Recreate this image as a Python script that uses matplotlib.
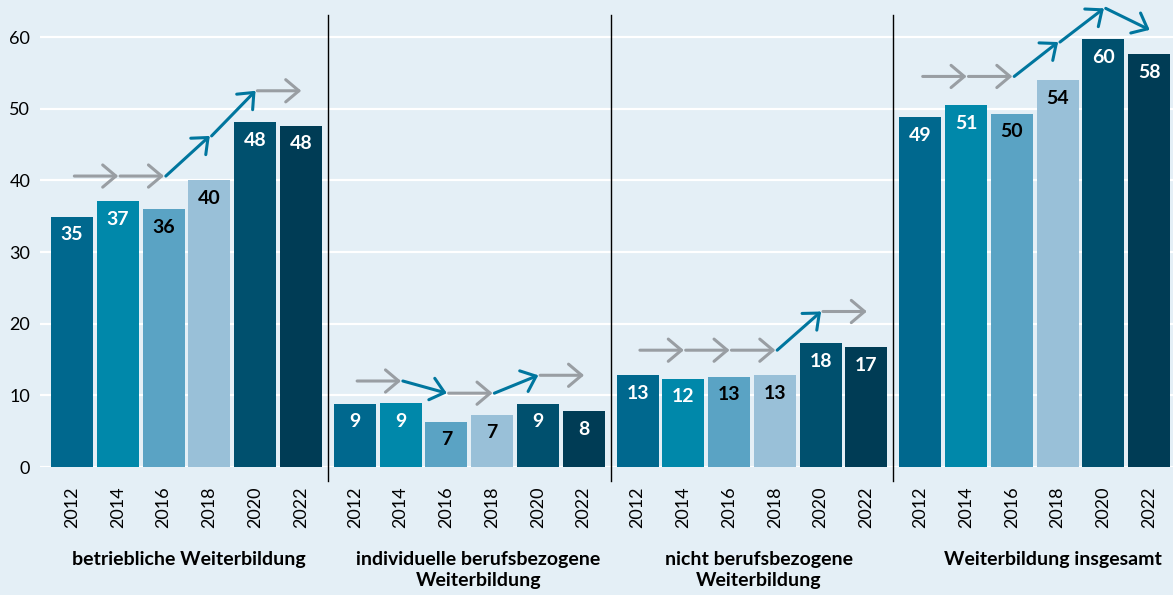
import matplotlib
matplotlib.use("Agg")
import matplotlib.pyplot as plt
from matplotlib.patches import FancyArrowPatch
import matplotlib.transforms as mtransforms

plt.rcParams['font.family'] = ['Lato', 'DejaVu Sans']

years = ["2012", "2014", "2016", "2018", "2020", "2022"]
groups = ["betriebliche Weiterbildung",
          "individuelle berufsbezogene\nWeiterbildung",
          "nicht berufsbezogene\nWeiterbildung",
          "Weiterbildung insgesamt"]

# bar heights and printed labels
heights_betrieblich = [34.9, 37.1, 36.0, 40.0, 48.1, 47.6]
heights_individuell = [8.8, 8.9, 6.3, 7.3, 8.8, 7.8]
heights_nicht = [12.8, 12.3, 12.6, 12.8, 17.3, 16.7]
heights_gesamt = [48.8, 50.5, 49.3, 54.0, 59.7, 57.6]

labels_betrieblich = ["35", "37", "36", "40", "48", "48"]
labels_individuell = ["9", "9", "7", "7", "9", "8"]
labels_nicht = ["13", "12", "13", "13", "18", "17"]
labels_gesamt = ["49", "51", "50", "54", "60", "58"]

# trend-arrow levels above each bar
trend_betrieblich = [40.6, 40.6, 40.6, 46.2, 52.5, 52.5]
trend_individuell = [12.0, 12.0, 10.3, 10.3, 12.8, 12.8]
trend_nicht = [16.3, 16.3, 16.3, 16.3, 21.7, 21.7]
trend_gesamt = [54.5, 54.5, 54.5, 59.3, 64.0, 61.0]

all_heights = [heights_betrieblich, heights_individuell, heights_nicht, heights_gesamt]
all_labels = [labels_betrieblich, labels_individuell, labels_nicht, labels_gesamt]
all_trends = [trend_betrieblich, trend_individuell, trend_nicht, trend_gesamt]

bar_colors = ["#00688e", "#0088aa", "#5aa3c4", "#99c0d8", "#00506e", "#003c55"]
label_colors = ["white", "white", "black", "black", "white", "white"]
bg = "#e4eff6"
gray = "#999ea3"
blue = "#00769e"

GROUP_PITCH = 6.18
BAR_W = 0.918
GROUP_LABEL_SHIFT = [0.05, 0.2, 0.15, 0.4]

fig = plt.figure(figsize=(11.73, 5.95), dpi=100, facecolor=bg)
ax = fig.add_axes([40 / 1173, 128 / 595, 1 - 40 / 1173, 465.8 / 595])
ax.set_facecolor(bg)
ax.set_xlim(-0.70, 3 * GROUP_PITCH + 5 + 0.52)
ax.set_ylim(0, 65)
for s in ax.spines.values():
    s.set_visible(False)
ax.set_yticks([0, 10, 20, 30, 40, 50, 60])
ax.yaxis.grid(True, color="white", linewidth=1.6)
ax.set_axisbelow(True)
ax.tick_params(axis="y", length=0, pad=7, labelsize=13)
ax.tick_params(axis="x", length=0, pad=14, labelsize=13)

xticks, xlabels = [], []
blend = mtransforms.blended_transform_factory(ax.transData, fig.transFigure)
for g in range(4):
    xs = [g * GROUP_PITCH + i for i in range(6)]
    ax.bar(xs, all_heights[g], width=BAR_W, color=bar_colors, zorder=2)
    for i in range(6):
        ax.annotate(all_labels[g][i], (xs[i], all_heights[g][i]), xytext=(0, -13),
                    textcoords="offset points", ha="center", va="center",
                    fontsize=14, fontweight="bold", color=label_colors[i], zorder=3)
    tr = all_trends[g]
    for i in range(5):
        c = gray if tr[i] == tr[i + 1] else blue
        arr = FancyArrowPatch((xs[i] + 0.05, tr[i]), (xs[i + 1] + 0.01, tr[i + 1]),
                              arrowstyle="->,head_length=0.95,head_width=0.8",
                              mutation_scale=10, lw=2.2, color=c,
                              shrinkA=0, shrinkB=0, clip_on=False, zorder=4)
        ax.add_patch(arr)
    xticks += xs
    xlabels += years
    ax.text(g * GROUP_PITCH + 2.5 + GROUP_LABEL_SHIFT[g], (595 - 551) / 595, groups[g],
            transform=blend, ha="center", va="top", fontsize=14, fontweight="bold",
            linespacing=1.3)
    if g > 0:
        sx = g * GROUP_PITCH - 0.5 - (GROUP_PITCH - 6) / 2
        ax.plot([sx, sx], [-1.95, 63.1], color="black", lw=1.0,
                clip_on=False, zorder=5)

ax.set_xticks(xticks)
ax.set_xticklabels(xlabels, rotation=90, va="top")

fig.savefig("out.png", dpi=100, facecolor=bg)
